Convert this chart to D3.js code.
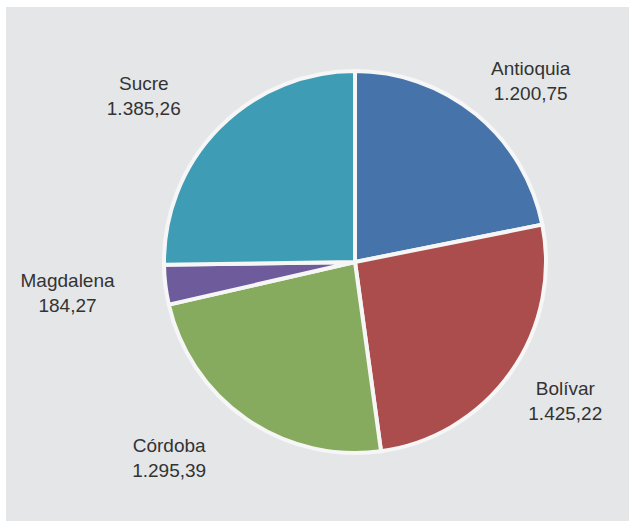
<!DOCTYPE html>
<html>
<head>
<meta charset="utf-8">
<script src="https://cdn.jsdelivr.net/npm/d3@7"></script>
<style>
  html, body { margin: 0; padding: 0; background: #ffffff; }
  svg { display: block; }
  .lbl { font-family: "Liberation Sans", Arial, sans-serif; font-size: 19px; fill: #333333; }
</style>
</head>
<body>
<svg id="chart" width="629" height="522"></svg>
<script>
// ---- data ----
const categories = ["Antioquia", "Bolívar", "Córdoba", "Magdalena", "Sucre"];
const values = [1200.75, 1425.22, 1295.39, 184.27, 1385.26];
const valueLabels = ["1.200,75", "1.425,22", "1.295,39", "184,27", "1.385,26"];
const colors = ["#4573AA", "#AB4D4D", "#87AB5E", "#6D5B9B", "#3F9CB5"];

// ---- layout ----
const W = 629, H = 522;
const cx = 355, cy = 262, R = 191;
const labelR = 225;
// small label nudges to match the original placement
const nudge = {
  "Antioquia": [-4, -7], "Bolívar": [-10, 9], "Córdoba": [-21, 11],
  "Magdalena": [-35, 4], "Sucre": [-14, -8]
};

const svg = d3.select("#chart");
svg.append("rect").attr("x", 6).attr("y", 7).attr("width", W - 6).attr("height", 514).attr("fill", "#e5e6e8");

const data = categories.map((c, i) => ({ name: c, value: values[i], label: valueLabels[i], color: colors[i] }));

const pie = d3.pie().value(d => d.value).sort(null).startAngle(0).endAngle(2 * Math.PI);
const arcs = pie(data);
const arc = d3.arc().innerRadius(0).outerRadius(R);

const g = svg.append("g").attr("transform", `translate(${cx},${cy})`);
g.selectAll("path.slice").data(arcs).join("path")
  .attr("class", "slice")
  .attr("d", arc)
  .attr("fill", d => d.data.color)
  .attr("stroke", "#f6f6f6")
  .attr("stroke-width", 4)
  .attr("stroke-linejoin", "miter");

const lab = g.selectAll("g.lab").data(arcs).join("g").attr("class", "lab");
lab.each(function(d) {
  const sel = d3.select(this);
  const t1 = sel.append("text").attr("class", "lbl").attr("text-anchor", "middle").text(d.data.name);
  const t2 = sel.append("text").attr("class", "lbl").attr("text-anchor", "middle").attr("dy", 25).text(d.data.label);
  const w = t2.node().getComputedTextLength();
  const a = (d.startAngle + d.endAngle) / 2;
  const s = Math.sin(a), c = Math.cos(a);
  const n = nudge[d.data.name];
  const x = labelR * s + Math.sign(s) * w / 2 + n[0];
  const y = -labelR * c - 6 + n[1];
  sel.attr("transform", `translate(${x},${y})`);
});
</script>
</body>
</html>
